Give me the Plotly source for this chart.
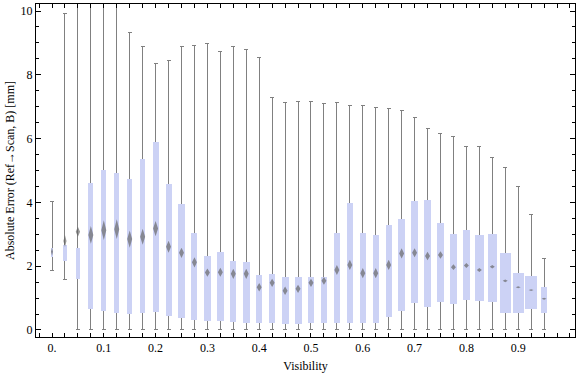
import plotly.graph_objects as go

# ---------------- data ----------------
visibility = [0.0, 0.025, 0.05, 0.075, 0.1, 0.125, 0.15, 0.175,
              0.2, 0.225, 0.25, 0.275, 0.3, 0.325, 0.35, 0.375,
              0.4, 0.425, 0.45, 0.475, 0.5, 0.525, 0.55, 0.575,
              0.6, 0.625, 0.65, 0.675, 0.7, 0.725, 0.75, 0.775,
              0.8, 0.825, 0.85, 0.875, 0.9, 0.925, 0.95]

whisker_max = [4.02, 9.93, 10.27, 10.6, 10.5, 10.32, 9.33, 8.88,
               8.36, 8.44, 8.88, 8.92, 8.98, 8.72, 8.88, 8.80,
               8.55, 7.29, 7.14, 7.17, 7.17, 7.10, 7.14, 7.04,
               7.04, 6.98, 6.95, 6.89, 6.67, 6.32, 6.17, 6.07,
               5.76, 5.76, 5.41, 5.10, 4.49, 3.63, 2.25]

whisker_min = [1.86, 1.59, 0.03, 0.01, 0.01, 0.01, 0.01, 0.01,
               0.01, 0.01, 0.01, 0.01, 0.01, 0.01, 0.01, 0.01,
               0.01, 0.01, 0.01, 0.01, 0.01, 0.01, 0.01, 0.01,
               0.01, 0.01, 0.01, 0.01, 0.01, 0.01, 0.01, 0.01,
               0.01, 0.01, 0.01, 0.01, 0.01, 0.01, 0.03]

q1 = [2.28, 2.17, 1.59, 0.65, 0.61, 0.54, 0.49, 0.52,
      0.57, 0.45, 0.39, 0.31, 0.28, 0.29, 0.26, 0.23,
      0.21, 0.21, 0.18, 0.18, 0.21, 0.21, 0.21, 0.23,
      0.21, 0.23, 0.42, 0.61, 0.86, 0.73, 0.88, 0.82,
      0.95, 0.91, 0.88, 0.54, 0.54, 0.66, 0.54]

q3 = [2.56, 2.66, 2.56, 4.62, 5.02, 4.91, 4.72, 5.35,
      5.88, 4.58, 3.95, 3.03, 2.32, 2.44, 2.16, 2.12,
      1.71, 1.76, 1.67, 1.67, 1.67, 1.67, 3.05, 3.99,
      3.03, 2.97, 3.28, 3.48, 4.04, 4.08, 3.35, 3.01,
      3.13, 2.98, 3.01, 2.40, 1.78, 1.69, 1.34]

mean = [2.45, 2.79, 3.08, 2.98, 3.13, 3.16, 2.85, 2.92,
        3.18, 2.61, 2.42, 2.12, 1.80, 1.81, 1.76, 1.76,
        1.34, 1.48, 1.23, 1.29, 1.48, 1.54, 1.88, 2.04,
        1.78, 1.78, 2.04, 2.40, 2.42, 2.32, 2.35, 1.97,
        2.02, 1.88, 1.98, 1.54, 1.34, 1.25, 0.98]

# half-height of the mean confidence diamond [mm]
mean_ci = [0.125, 0.19, 0.16, 0.28, 0.31, 0.31, 0.27, 0.25,
           0.24, 0.19, 0.16, 0.16, 0.13, 0.14, 0.16, 0.16,
           0.13, 0.13, 0.13, 0.13, 0.13, 0.12, 0.16, 0.16,
           0.16, 0.16, 0.16, 0.16, 0.14, 0.13, 0.12, 0.09,
           0.08, 0.06, 0.055, 0.045, 0.03, 0.025, 0.03]

x_tick_vals = [0.0, 0.1, 0.2, 0.3, 0.4, 0.5, 0.6, 0.7, 0.8, 0.9]
x_tick_text = ["0.", "0.1", "0.2", "0.3", "0.4", "0.5", "0.6", "0.7", "0.8", "0.9"]
y_tick_vals = [0, 2, 4, 6, 8, 10]

# ---------------- styles ----------------
box_width = [0.004, 0.006, 0.0083, 0.0097, 0.0097, 0.0097, 0.0097, 0.0097,
             0.0116, 0.0116, 0.0116, 0.0116, 0.0122, 0.0122, 0.0122, 0.0129,
             0.0116, 0.0116, 0.0135, 0.0135, 0.0129, 0.0116, 0.0116, 0.0122,
             0.0116, 0.0116, 0.0122, 0.0122, 0.0129, 0.0141, 0.0141, 0.0141,
             0.0135, 0.0174, 0.0168, 0.0218, 0.0218, 0.0218, 0.0122]
DIAMOND_HALF_W = 0.0048
BOX_COLOR = "#CCD2F5"
WHISKER_COLOR = "#808080"
FONT = "Liberation Serif, Times New Roman, serif"

fig = go.Figure()

# whiskers (error bars on transparent bars, so the boxes are drawn over them)
fig.add_trace(go.Bar(
    x=visibility, y=whisker_min, width=box_width,
    marker=dict(color="rgba(0,0,0,0)", line=dict(width=0)),
    error_y=dict(type="data", symmetric=False,
                 array=[mx - mn for mx, mn in zip(whisker_max, whisker_min)],
                 arrayminus=[0] * len(whisker_min),
                 color=WHISKER_COLOR, thickness=1, width=2),
    hoverinfo="skip", showlegend=False,
))

# boxes
fig.add_trace(go.Bar(
    x=visibility, base=q1, y=[b - a for a, b in zip(q1, q3)], width=box_width,
    marker=dict(color=BOX_COLOR, line=dict(width=0)),
    showlegend=False,
))

# mean diamonds
dx, dy = [], []
for xv, m, c, w in zip(visibility, mean, mean_ci, box_width):
    hw = min(DIAMOND_HALF_W, w / 2)
    dx += [xv, xv + hw, xv, xv - hw, xv, None]
    dy += [m + c, m, m - c, m, m + c, None]
fig.add_trace(go.Scatter(
    x=dx, y=dy, mode="lines", fill="toself",
    fillcolor="rgba(100,100,100,0.68)", line=dict(width=0, color="rgba(95,95,95,0)"),
    showlegend=False, hoverinfo="skip",
))

fig.update_layout(
    width=576, height=377,
    margin=dict(l=36, r=1, t=4, b=40),
    paper_bgcolor="white", plot_bgcolor="white",
    barmode="overlay", bargap=0,
    font=dict(family=FONT, size=12, color="#000000"),
    showlegend=False,
)

fig.update_xaxes(
    range=[-0.0309, 1.0097],
    tickvals=x_tick_vals, ticktext=x_tick_text,
    ticks="inside", ticklen=4, tickcolor="black", tickwidth=1,
    minor=dict(dtick=0.025, tick0=0, ticks="inside", ticklen=4,
               tickcolor="black", tickwidth=1, showgrid=False),
    showline=True, linecolor="black", linewidth=1, mirror="allticks",
    showgrid=False, zeroline=False, automargin=False,
    title=dict(text="Visibility", font=dict(family=FONT, size=12), standoff=7),
    tickfont=dict(family=FONT, size=12),
)
fig.update_yaxes(
    range=[-0.22, 10.22],
    tickvals=y_tick_vals,
    ticks="inside", ticklen=5, tickcolor="black", tickwidth=1,
    minor=dict(dtick=0.5, tick0=0, ticks="inside", ticklen=3,
               tickcolor="black", tickwidth=1, showgrid=False),
    showline=True, linecolor="black", linewidth=1, mirror="allticks",
    showgrid=False, zeroline=False, automargin=False,
    title=dict(text="Absolute Error (Ref\u2192Scan, B) [mm]",
               font=dict(family=FONT, size=12), standoff=3),
    tickfont=dict(family=FONT, size=12),
)

fig.write_html("out.html", config={"displayModeBar": False},
               post_script="document.body.style.margin='0';")
